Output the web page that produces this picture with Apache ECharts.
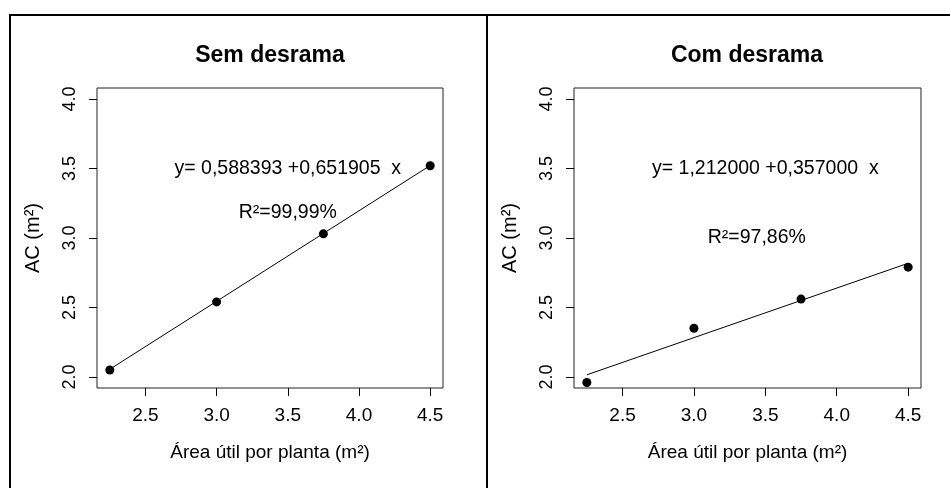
<!DOCTYPE html>
<html>
<head>
<meta charset="utf-8">
<script src="https://cdn.jsdelivr.net/npm/echarts@6/dist/echarts.min.js"></script>
<style>
html,body{margin:0;padding:0;background:#fff;}
#c{width:950px;height:488px;}
</style>
</head>
<body>
<div id="c"></div>
<script>
// ---- data ----
const panelTitles = ['Sem desrama', 'Com desrama'];
const xValues = [2.25, 3.0, 3.75, 4.5];
const semValues = [2.05, 2.54, 3.03, 3.52];
const comValues = [1.96, 2.35, 2.56, 2.79];
// fitted-line end points
const semFitX = [2.25, 4.5];
const semFitY = [2.055, 3.522];
const comFitX = [2.25, 4.5];
const comFitY = [2.015, 2.818];
const xTicks = [2.5, 3.0, 3.5, 4.0, 4.5];
const yTicks = [2.0, 2.5, 3.0, 3.5, 4.0];
const xName = 'Área útil por planta (m²)';
const yName = 'AC (m²)';
const semNotes = ['y= 0,588393 +0,651905  x', 'R²=99,99%'];
const semNotePos = [[3.5, 3.5], [3.5, 3.18]];
const comNotes = ['y= 1,212000 +0,357000  x', 'R²=97,86%'];
const comNotePos = [[3.5, 3.5], [3.44, 3.0]];

const FONT = '"Liberation Sans", Arial, Helvetica, sans-serif';
const chart = echarts.init(document.getElementById('c'), null, {renderer: 'canvas'});

function pairs(xs, ys) { return xs.map((x, i) => [x, ys[i]]); }

function xAxisCfg(idx) {
  return {
    type: 'value', gridIndex: idx, min: 2.16, max: 4.59,
    splitLine: {show: false},
    axisLine: {show: false},
    axisTick: {show: true, inside: false, length: 8, customValues: xTicks, lineStyle: {color: '#000', width: 1}},
    axisLabel: {show: true, customValues: xTicks, margin: 18, color: '#000', fontFamily: FONT, fontSize: 19,
      formatter: v => v.toFixed(1)},
    name: xName, nameLocation: 'middle', nameGap: 55,
    nameTextStyle: {color: '#000', fontFamily: FONT, fontSize: 19}
  };
}
function yAxisCfg(idx) {
  return {
    type: 'value', gridIndex: idx, min: 1.92, max: 4.08,
    splitLine: {show: false},
    axisLine: {show: false},
    axisTick: {show: true, inside: false, length: 8, customValues: yTicks, lineStyle: {color: '#000', width: 1}},
    axisLabel: {show: true, customValues: yTicks, rotate: 90, margin: 18, color: '#000', fontFamily: FONT, fontSize: 18,
      formatter: v => v.toFixed(1)},
    name: yName, nameLocation: 'middle', nameGap: 54, nameRotate: 90,
    nameTextStyle: {color: '#000', fontFamily: FONT, fontSize: 20}
  };
}
function noteSeries(idx, notes, pos) {
  return {
    type: 'scatter', xAxisIndex: idx, yAxisIndex: idx, symbolSize: 0, silent: true,
    itemStyle: {opacity: 1},
    data: pos.map((p, i) => ({value: p, name: notes[i]})),
    label: {show: true, position: 'inside', formatter: p => p.name, color: '#000', fontFamily: FONT, fontSize: 19.5},
    z: 5
  };
}

const option = {
  backgroundColor: '#fff',
  animation: false,
  title: [
    {text: panelTitles[0], left: 270, top: 44, textAlign: 'center', padding: 0,
      textStyle: {fontFamily: FONT, fontSize: 23, fontWeight: 'bold', color: '#000'}},
    {text: panelTitles[1], left: 747, top: 44, textAlign: 'center', padding: 0,
      textStyle: {fontFamily: FONT, fontSize: 23, fontWeight: 'bold', color: '#000'}}
  ],
  grid: [
    {left: 97, top: 88, width: 346, height: 300, show: true, borderColor: '#222', borderWidth: 1, backgroundColor: 'transparent'},
    {left: 574, top: 88, width: 347, height: 300, show: true, borderColor: '#222', borderWidth: 1, backgroundColor: 'transparent'}
  ],
  xAxis: [xAxisCfg(0), xAxisCfg(1)],
  yAxis: [yAxisCfg(0), yAxisCfg(1)],
  series: [
    {type: 'line', xAxisIndex: 0, yAxisIndex: 0, data: pairs(semFitX, semFitY), symbol: 'none',
      lineStyle: {color: '#000', width: 1}},
    {type: 'scatter', xAxisIndex: 0, yAxisIndex: 0, data: pairs(xValues, semValues), symbol: 'circle', symbolSize: 9,
      itemStyle: {color: '#000', opacity: 1}},
    {type: 'line', xAxisIndex: 1, yAxisIndex: 1, data: pairs(comFitX, comFitY), symbol: 'none',
      lineStyle: {color: '#000', width: 1}},
    {type: 'scatter', xAxisIndex: 1, yAxisIndex: 1, data: pairs(xValues, comValues), symbol: 'circle', symbolSize: 9,
      itemStyle: {color: '#000', opacity: 1}},
    noteSeries(0, semNotes, semNotePos),
    noteSeries(1, comNotes, comNotePos)
  ],
  graphic: [
    {type: 'line', shape: {x1: 9, y1: 15, x2: 950, y2: 15}, style: {stroke: '#000', lineWidth: 2}},
    {type: 'line', shape: {x1: 10, y1: 14, x2: 10, y2: 488}, style: {stroke: '#000', lineWidth: 2}},
    {type: 'line', shape: {x1: 487, y1: 14, x2: 487, y2: 488}, style: {stroke: '#000', lineWidth: 2}}
  ]
};
chart.setOption(option);
</script>
</body>
</html>
